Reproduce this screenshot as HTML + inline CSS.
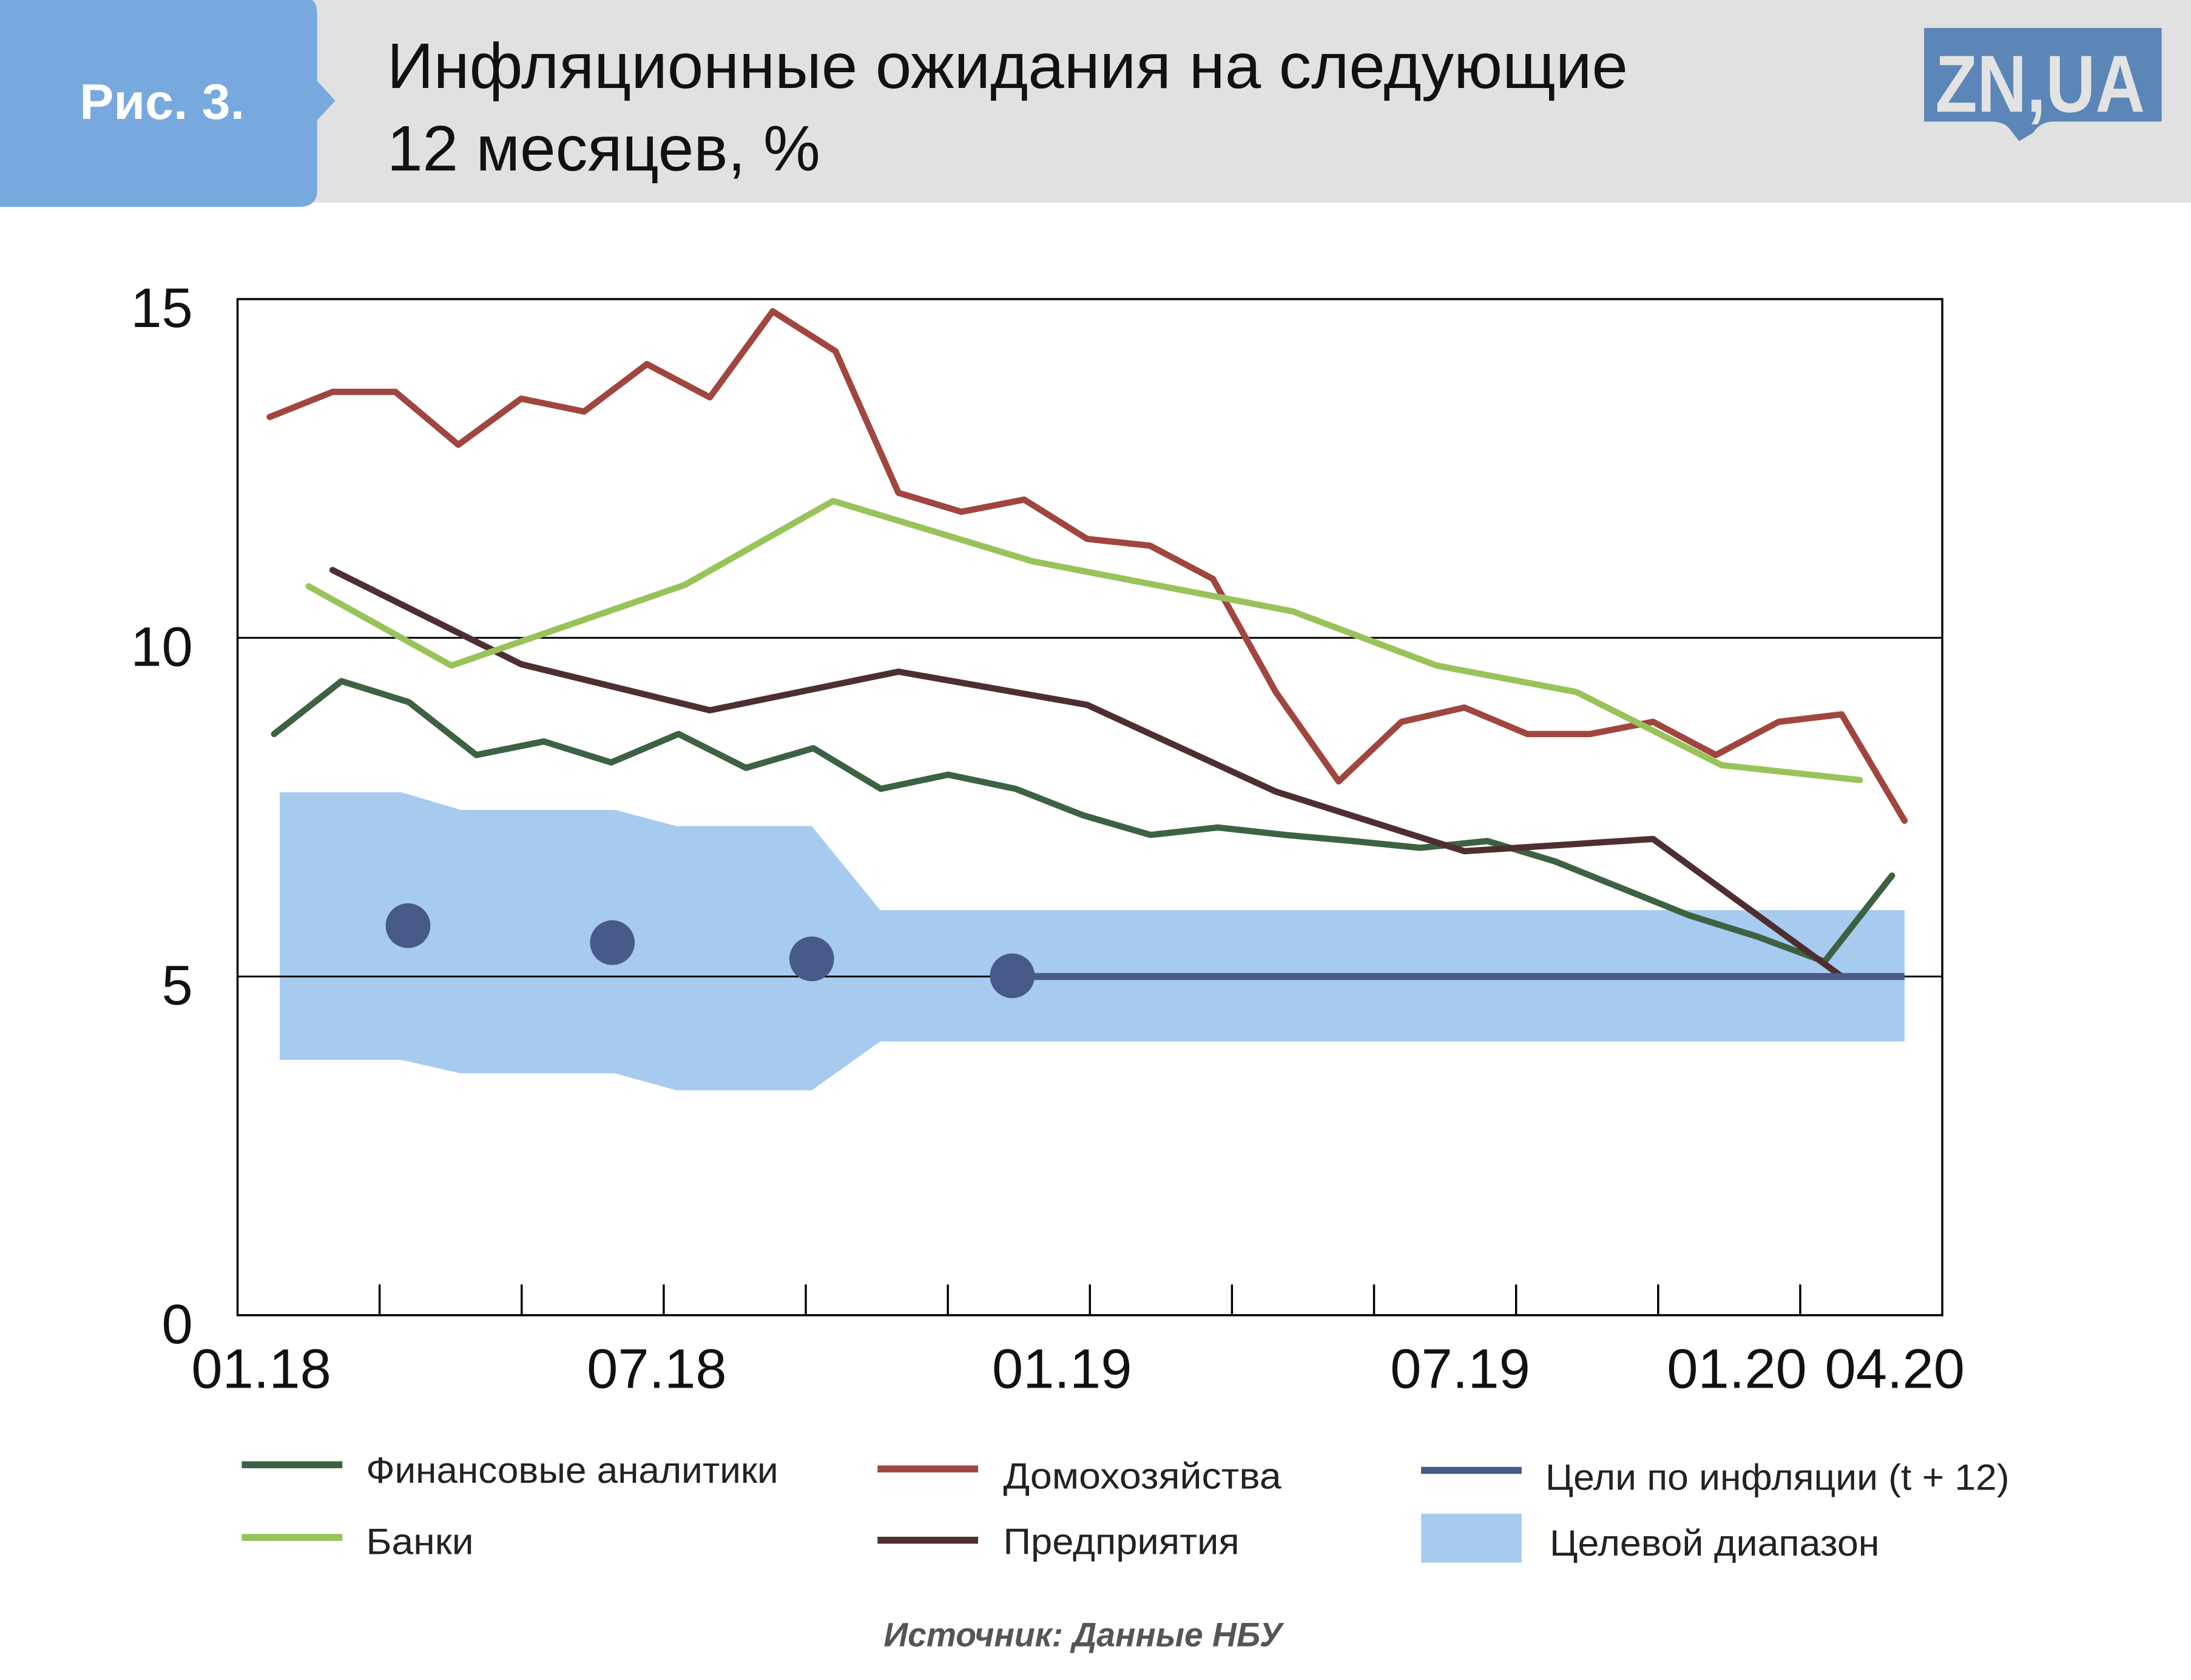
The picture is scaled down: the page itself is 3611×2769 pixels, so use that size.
<!DOCTYPE html>
<html><head><meta charset="utf-8">
<style>
html,body{margin:0;padding:0;background:#fff;}
svg{display:block;}
text{font-family:"Liberation Sans","Noto Sans CJK SC",sans-serif;}
</style></head>
<body>
<svg id="chart" width="3611" height="2769" viewBox="0 0 1568 1202" preserveAspectRatio="none" xmlns="http://www.w3.org/2000/svg">
  <rect x="0" y="0" width="1568" height="145" fill="#e1e1e1"/>
  <path d="M0,0 H222 Q227,0 227,12 V58 L240,72 L227,86 V136 Q227,148 214,148 H0 Z" fill="#77a9de"/>
  <text x="57" y="85" font-size="36" font-weight="bold" fill="#fff" textLength="118" lengthAdjust="spacingAndGlyphs">Рис. 3.</text>
  <text x="277" y="63" font-size="46" fill="#111" textLength="888" lengthAdjust="spacingAndGlyphs">Инфляционные ожидания на следующие</text>
  <text x="277" y="122" font-size="46" fill="#111" textLength="310" lengthAdjust="spacingAndGlyphs">12 месяцев, %</text>
  <g>
    <path d="M1377,20 H1547 V87 H1470 Q1460,87 1455,95 L1445,101 L1438,92 Q1434,87 1425,87 H1377 Z" fill="#5b86b7"/>
    <text x="1460" y="80" font-size="58" font-weight="bold" fill="#e3e3e3" text-anchor="middle" textLength="150" lengthAdjust="spacingAndGlyphs">ZN,UA</text>
  </g>
  <g id="plot"></g>
  <g id="legend">
    <line x1="173" y1="1048" x2="245" y2="1048" stroke="#3c6243" stroke-width="5"/>
    <text x="262" y="1061" font-size="26" fill="#222" textLength="295" lengthAdjust="spacingAndGlyphs">Финансовые аналитики</text>
    <line x1="173" y1="1100" x2="245" y2="1100" stroke="#98c35a" stroke-width="5"/>
    <text x="262" y="1112" font-size="26" fill="#222" textLength="77" lengthAdjust="spacingAndGlyphs">Банки</text>
    <line x1="628" y1="1051" x2="700" y2="1051" stroke="#a0463f" stroke-width="5"/>
    <text x="718" y="1065" font-size="26" fill="#222" textLength="199" lengthAdjust="spacingAndGlyphs">Домохозяйства</text>
    <line x1="628" y1="1102" x2="700" y2="1102" stroke="#4e2f31" stroke-width="5"/>
    <text x="718" y="1112" font-size="26" fill="#222" textLength="169" lengthAdjust="spacingAndGlyphs">Предприятия</text>
    <line x1="1017" y1="1052" x2="1089" y2="1052" stroke="#475a88" stroke-width="5"/>
    <text x="1106" y="1066" font-size="26" fill="#222" textLength="332" lengthAdjust="spacingAndGlyphs">Цели по инфляции (t + 12)</text>
    <rect x="1017" y="1083" width="72" height="35" fill="#a7cbee"/>
    <text x="1109" y="1113" font-size="26" fill="#222" textLength="236" lengthAdjust="spacingAndGlyphs">Целевой диапазон</text>
  </g>
  <text x="775" y="1178" font-size="24" font-weight="bold" font-style="italic" fill="#555" text-anchor="middle">Источник: Данные НБУ</text>
</svg>
<script>
// data (month index: 0 = 01.18)
const yTicks = [0, 5, 10, 15];
const xTickLabels = ["01.18", "07.18", "01.19", "07.19", "01.20", "04.20"];
const households = [13.26,13.63,13.63,12.85,13.53,13.34,14.04,13.55,14.82,14.23,12.14,11.86,12.04,11.46,11.36,10.87,9.2,7.88,8.76,8.97,8.58,8.58,8.76,8.27,8.76,8.87,7.3];
const analysts = [8.58,9.36,9.05,8.27,8.47,8.16,8.58,8.08,8.37,7.77,7.98,7.77,7.38,7.09,7.2,7.09,7.0,6.9,7.0,6.7,6.3,5.9,5.59,5.22,6.49];
const banksMonths = [0.62,2.89,6.6,8.96,12.13,16.27,18.56,20.78,23.09,25.29];
const banks = [10.76,9.59,10.78,12.02,11.13,10.39,9.59,9.2,8.12,7.9];
const enterprisesMonths = [1,4,7,10,13,16,19,22,25];
const enterprises = [11.0,9.61,8.93,9.5,9.01,7.73,6.85,7.03,5.0];
const bandMonths = [0.16,2.09,3.04,5.49,6.47,8.62,9.71,26];
const bandHigh = [7.72,7.72,7.46,7.46,7.22,7.22,5.98,5.98];
const bandLow = [3.77,3.77,3.57,3.57,3.32,3.32,4.04,4.04];
const targetMonths = [2.2,5.45,8.62,11.81];
const targetValues = [5.75,5.5,5.26,5.01];
const targetLineEnd = 26;

const NS = "http://www.w3.org/2000/svg";
const X0 = 170, X1 = 1390, YT = 214, YB = 941;
const x = m => 193 + m * 45;
const y = v => YB - v * (YB - YT) / 15;
const plot = document.getElementById('plot');
function mk(tag, attrs){const e=document.createElementNS(NS,tag);for(const k in attrs)e.setAttribute(k,attrs[k]);plot.appendChild(e);return e;}

let d = bandMonths.map((m,i)=>(i?'L':'M')+x(m)+','+y(bandHigh[i])).join(' ');
for (let i=bandMonths.length-1;i>=0;i--) d += ' L'+x(bandMonths[i])+','+y(bandLow[i]);
const band = mk('path',{d:d+' Z',fill:'#a7cbee'});



[5,10].forEach(v=>{
  const g = mk('line',{x1:X0,x2:X1,y1:y(v),y2:y(v),stroke:'#000','stroke-width':1.3});
  
  
});
const frame = mk('rect',{x:X0,y:YT,width:X1-X0,height:YB-YT,fill:'none',stroke:'#000','stroke-width':1.5});


for (let i=1;i<12;i++){
  const tx = X0 + i*(X1-X0)/12;
  const t = mk('line',{x1:tx,x2:tx,y1:YB-22,y2:YB,stroke:'#000','stroke-width':1.5});
  
  
}
yTicks.forEach(v=>{
  const t = mk('text',{x:138,y:y(v)+20,'font-size':40,'text-anchor':'end',fill:'#111'});
  t.textContent = v;
  
  
});
const xLabelPos = [187,470,760,1045,1243,1356];
xTickLabels.forEach((s,i)=>{
  const t = mk('text',{x:xLabelPos[i],y:993,'font-size':40,'text-anchor':'middle',fill:'#111'});
  t.textContent = s;
  
  
});

function series(ms, vs, color, name){
  const p = mk('polyline',{points:vs.map((v,i)=>x(ms[i])+','+y(v)).join(' '),fill:'none',stroke:color,'stroke-width':4.5,'stroke-linejoin':'round','stroke-linecap':'round'});
  
  
}
const hhMonths = households.map((_,i)=>i);
const anMonths = analysts.map((_,i)=>0.07 + i*(25.8-0.07)/(analysts.length-1));
series(anMonths, analysts, '#3c6243', 'series-analysts');
series(enterprisesMonths, enterprises, '#4e2f31', 'series-enterprises');
series(hhMonths, households, '#a0463f', 'series-households');
series(banksMonths, banks, '#98c35a', 'series-banks');

const tl = mk('line',{x1:x(targetMonths[targetMonths.length-1]),x2:x(targetLineEnd),y1:y(5),y2:y(5),stroke:'#475a88','stroke-width':5});


targetMonths.forEach((m,i)=>{
  const c = mk('circle',{cx:x(m),cy:y(targetValues[i]),r:16,fill:'#475a88'});
  
  
});
</script>
</body></html>
